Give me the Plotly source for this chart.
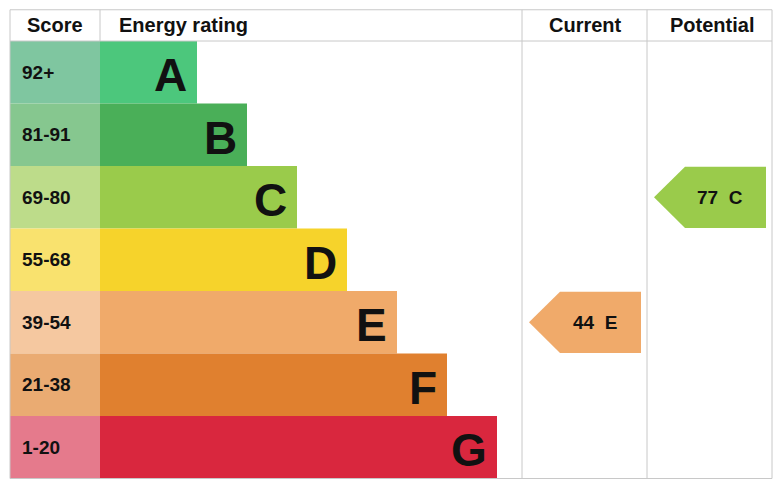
import plotly.graph_objects as go

bands = ["A", "B", "C", "D", "E", "F", "G"]
scores = ["92+", "81-91", "69-80", "55-68", "39-54", "21-38", "1-20"]
lows = [92, 81, 69, 55, 39, 21, 1]
bar_lengths = [97, 147, 197, 247, 297, 347, 397]
bar_colors = ["#4cc77c", "#4aaf58", "#9acb4b", "#f6d32b", "#f0aa6a", "#e0802f", "#d9273e"]
score_colors = ["#7fc6a0", "#86c78f", "#bddc8a", "#f9e26e", "#f5c8a0", "#eaab72", "#e57a8c"]
current = 44
potential = 77

GRID = "#c8c8c8"


def band_of(value):
    for i, lo in enumerate(lows):
        if value >= lo:
            return i
    return len(lows) - 1


rows = list(range(len(bands)))
fig = go.Figure()

fig.add_trace(go.Bar(y=rows, x=[90] * 7, base=10, orientation="h", width=1,
                     marker=dict(color=score_colors, line_width=0), hoverinfo="skip"))
fig.add_trace(go.Bar(y=rows, x=bar_lengths, base=100, orientation="h", width=1,
                     marker=dict(color=bar_colors, line_width=0), hoverinfo="skip"))

for i in rows:
    fig.add_annotation(x=20, y=i, text=f"<b>{scores[i]}</b>", showarrow=False,
                       xanchor="left", font=dict(size=19, color="#111"))
    fig.add_annotation(x=100 + bar_lengths[i] - 8, y=i + 0.05, text=f"<b>{bands[i]}</b>",
                       showarrow=False, xanchor="right", font=dict(size=46, color="#111"))


def arrow(value, left, right):
    r = band_of(value)
    h = 0.49
    tip = left + 31
    fig.add_trace(go.Scatter(
        x=[left, tip, right, right, tip, left], y=[r, r - h, r - h, r + h, r + h, r],
        fill="toself", fillcolor=bar_colors[r], line_width=0, mode="lines",
        hoverinfo="skip"))
    fig.add_annotation(x=(tip + right) / 2 - 6, y=r, text=f"<b>{value}  {bands[r]}</b>",
                       showarrow=False, font=dict(size=19, color="#111"))


arrow(current, 529, 641)
arrow(potential, 654, 766)

# grid
for x in [10, 522, 647, 772]:
    fig.add_shape(type="line", x0=x, x1=x, y0=-1.0, y1=6.5, line=dict(color=GRID, width=1))
fig.add_shape(type="line", x0=100, x1=100, y0=-1.0, y1=-0.5, line=dict(color=GRID, width=1))
for y in [-1.0, -0.5, 6.5]:
    fig.add_shape(type="line", x0=10, x1=772, y0=y, y1=y, line=dict(color=GRID, width=1))

headers = [("Score", 55, "center"), ("Energy rating", 117, "left"),
           ("Current", 585, "center"), ("Potential", 712, "center")]
for t, x, anc in headers:
    fig.add_annotation(x=x, y=-0.75, text=f"<b>{t}</b>", showarrow=False, xanchor=anc,
                       font=dict(size=20, color="#111"))

fig.update_layout(
    width=782, height=482, margin=dict(l=0, r=0, t=0, b=0),
    plot_bgcolor="white", paper_bgcolor="white", showlegend=False, barmode="overlay",
    font=dict(family="Liberation Sans, Arial, sans-serif"),
    xaxis=dict(range=[8, 790], visible=False, fixedrange=True),
    yaxis=dict(range=[6.684, -1.028], visible=False, fixedrange=True),
)
fig.write_html("out.html")
